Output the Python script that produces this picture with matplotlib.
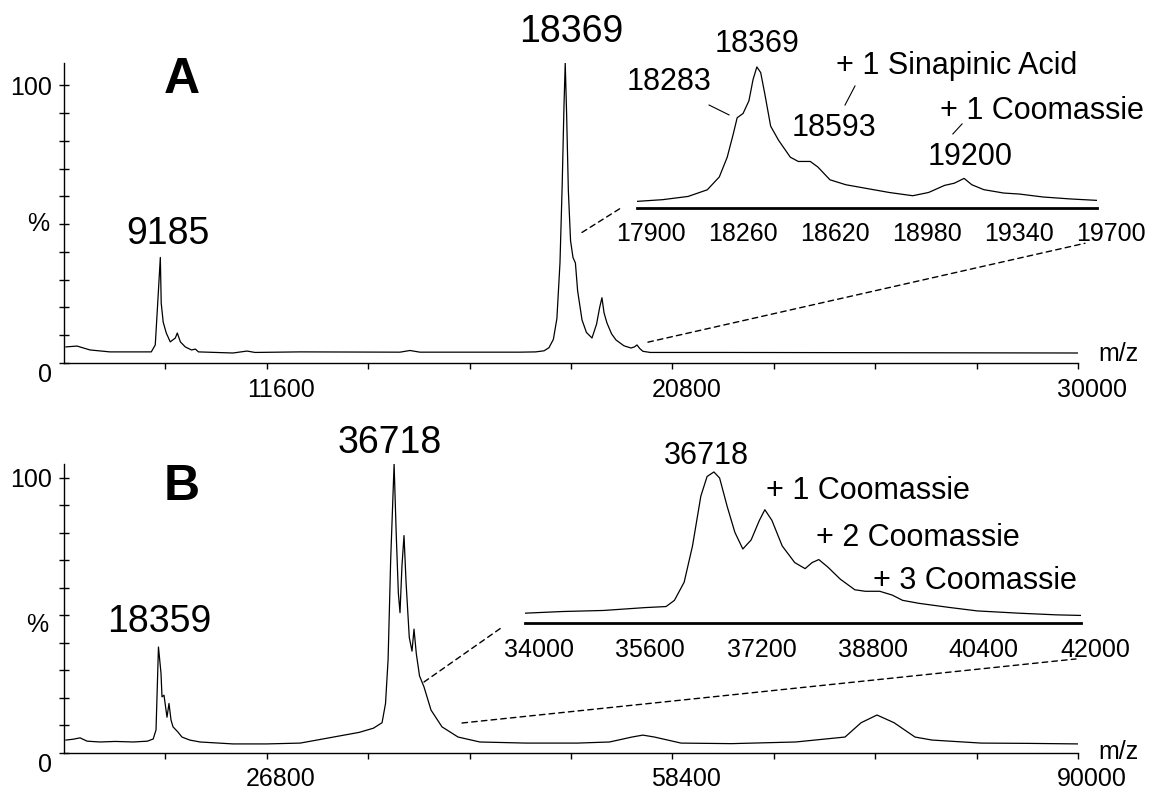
import numpy as np
import matplotlib
matplotlib.use('Agg')
import matplotlib.pyplot as plt
from matplotlib.patches import ConnectionPatch
from matplotlib.transforms import ScaledTranslation

plt.rcParams['font.family'] = ['Liberation Sans', 'DejaVu Sans']

# ---- panel A, full spectrum (m/z, relative intensity %)
mz_a = [7045, 7295, 7590, 8040, 8500, 8980, 9070, 9120, 9185, 9205, 9250, 9320, 9410,
        9525, 9570, 9640, 9750, 9890, 9980, 10050, 10833, 11151, 11332, 12353, 14620,
        14847, 15074, 17342, 17700, 17890, 18000, 18100, 18180, 18250, 18300, 18340,
        18369, 18400, 18440, 18490, 18545, 18600, 18650, 18750, 18850, 18976, 19080,
        19150, 19202, 19250, 19316, 19420, 19520, 19700, 19860, 19940, 19996, 20060,
        20132, 20300, 22000, 26000, 30000]
int_a = [5.8, 6.1, 4.7, 4.0, 4.0, 4.0, 6.5, 20, 38, 21.6, 14.7, 10.8, 7.6,
         9.0, 10.8, 7.6, 5.8, 4.7, 5.0, 4.0, 3.6, 4.3, 3.8, 4.0, 3.9,
         4.5, 3.9, 3.9, 4.0, 4.4, 5.5, 8.5, 16, 36, 64, 92,
         108, 90, 62, 44, 38, 36, 26, 15.5, 11, 9, 14,
         20, 23.5, 18, 14.4, 10.5, 8.3, 6.2, 5.4, 5.8, 6.5, 5.2,
         4.2, 3.8, 3.8, 3.7, 3.6]

# ---- panel A, inset
mz_ia = [17900, 18000, 18100, 18175, 18222, 18253, 18276, 18292, 18315, 18338, 18354,
         18369, 18384, 18400, 18423, 18454, 18500, 18531, 18578, 18608, 18655, 18717,
         18794, 18887, 18979, 19041, 19103, 19142, 19180, 19210, 19257, 19335, 19396,
         19489, 19597, 19700]
int_ia = [4.7, 5.9, 8.2, 12.9, 22, 36, 52, 64, 67, 76, 91,
          100, 96, 81, 58, 48, 36, 33, 33, 29, 20, 16.5,
          14, 11, 8.7, 11, 16, 17.6, 21, 16.5, 13, 10.6, 9.9,
          7.8, 6.4, 5.4]

# ---- panel B, full spectrum
mz_b = [11150, 11700, 12250, 12800, 13800, 15000, 16400, 17500, 17950, 18170, 18359,
        18557, 18635, 18790, 19025, 19180, 19337, 19493, 19880, 20190, 20800, 21600,
        24170, 26800, 29400, 32000, 34000, 35100, 35780, 36050, 36250, 36450, 36718,
        36880, 37050, 37178, 37330, 37490, 37650, 37900, 38113, 38269, 38450, 38700,
        39048, 39594, 40450, 41700, 43400, 47000, 51000, 53500, 55250, 56100, 57000,
        59070, 63000, 68000, 71850, 73100, 74340, 75670, 77300, 78630, 82450, 86000,
        90000]
int_b = [4.7, 5.0, 5.5, 4.3, 4.0, 4.2, 4.0, 4.3, 5.1, 8.4, 38.5,
         29, 20.4, 21, 13, 18, 12, 9.5, 7.6, 5.8, 4.7, 4.0,
         3.3, 3.3, 3.6, 5.8, 7.5, 9.0, 11, 18, 34, 70, 105,
         80, 58, 51, 68, 79, 62, 42, 37, 45, 36, 28,
         24, 15.6, 9.5, 5.8, 4.0, 3.6, 3.6, 4.0, 5.8, 6.5, 5.8,
         3.6, 3.4, 4.0, 5.8, 11, 13.8, 11, 5.8, 4.7, 3.6, 3.5,
         3.3]

# ---- panel B, inset
mz_ib = [34000, 34540, 35130, 35730, 36030, 36150, 36290, 36410, 36530, 36620, 36718,
         36800, 36910, 37020, 37134, 37254, 37373, 37451, 37552, 37701, 37881, 38030,
         38131, 38227, 38358, 38537, 38746, 38895, 39104, 39283, 39433, 39672, 40089,
         40507, 41104, 41642, 42000]
int_ib = [6.5, 7.6, 8.3, 10.2, 10.9, 15, 27, 51, 84, 97, 100,
          96, 77, 60, 49, 55, 68, 75, 68, 51, 40, 36,
          40, 42, 37, 29, 22, 21, 21, 18.5, 15, 13, 10.4,
          8, 6.5, 5.4, 5]

W, H = 1154, 792
fig = plt.figure(figsize=(W / 100, H / 100), dpi=100)


def px_rect(x0, x1, ytop, ybot):
    return [x0 / W, 1 - ybot / H, (x1 - x0) / W, (ybot - ytop) / H]


label_shift = ScaledTranslation(0.14, 0, fig.dpi_scale_trans)


def main_axes(rect, xlim, ymax, major, minor, pad):
    ax = fig.add_axes(rect)
    ax.set_xlim(*xlim)
    ax.set_ylim(0, ymax)
    ax.spines[['top', 'right']].set_visible(False)
    ax.spines[['left', 'bottom']].set_linewidth(1.0)
    ax.set_xticks(major)
    ax.set_xticks(minor, minor=True)
    ax.set_yticks([0, 100], ['0', '100'])
    ax.set_yticks(np.arange(10, 100, 10), minor=True)
    ax.tick_params(axis='x', which='both', direction='out', length=4, width=1,
                   labelsize=18, pad=pad)
    ax.tick_params(axis='y', which='both', direction='inout', length=7, width=1,
                   labelsize=18, pad=5)
    ax.get_yticklabels()[0].set_va('top')
    for lab in ax.get_xticklabels():
        lab.set_transform(lab.get_transform() + label_shift)
    return ax


def inset_axes(rect, xlim, ymax, ticks, pad):
    ax = fig.add_axes(rect)
    ax.set_facecolor('none')
    ax.set_xlim(*xlim)
    ax.set_ylim(0, ymax)
    ax.spines[['top', 'right', 'left']].set_visible(False)
    ax.spines['bottom'].set_linewidth(2)
    ax.set_yticks([])
    ax.set_xticks(ticks)
    ax.tick_params(axis='x', length=0, labelsize=18, pad=pad)
    for lab in ax.get_xticklabels():
        lab.set_transform(lab.get_transform() + label_shift)
    return ax


dash = (0, (4, 3))

# ================= A =================
ax_a = main_axes(px_rect(64, 1078, 63, 363), (7000, 30000), 108,
                 [11600, 20800, 30000], np.arange(9300, 30000, 2300), 7)
ax_a.plot(mz_a, int_a, color='k', lw=0.9)
ax_a.text(9676, 101.8, 'A', fontsize=36, fontweight='bold', ha='center', va='center')
ax_a.text(9359, 46.4, '9185', fontsize=27, ha='center', va='center')
ax_a.text(18499, 119, '18369', fontsize=27, ha='center', va='center')
ax_a.text(-0.025, 0.463, '%', fontsize=18, ha='center', va='center', transform=ax_a.transAxes)
ax_a.text(1.02, 0.03, 'm/z', fontsize=18, ha='left', va='center', transform=ax_a.transAxes)

ia = inset_axes(px_rect(637, 1097, 62, 208), (17900, 19700), 103.5,
                np.arange(17900, 19701, 360), 10)
ia.plot(mz_ia, int_ia, color='k', lw=0.9)
ia.text(18369, 116.3, '18369', fontsize=22, ha='center', va='center')
ia.text(18025, 89.4, '18283', fontsize=22, ha='center', va='center')
ia.text(19152, 100.7, '+ 1 Sinapinic Acid', fontsize=22, ha='center', va='center')
ia.text(18671, 56.7, '18593', fontsize=22, ha='center', va='center')
ia.text(19485, 68.8, '+ 1 Coomassie', fontsize=22, ha='center', va='center')
ia.text(19203, 36.2, '19200', fontsize=22, ha='center', va='center')
ia.plot([18182, 18260], [73, 66], color='k', lw=0.8, clip_on=False)
ia.plot([18753, 18714], [86.5, 73], color='k', lw=0.8, clip_on=False)
ia.plot([19172, 19136], [59.6, 52.5], color='k', lw=0.8, clip_on=False)

for pa, pb in [((18749, 47), (17837, 0)), ((20245, 7.5), (19653, -25))]:
    con = ConnectionPatch(xyA=pa, coordsA=ax_a.transData, xyB=pb, coordsB=ia.transData,
                          linestyle=dash, lw=1, color='k')
    fig.add_artist(con)

# ================= B =================
ax_b = main_axes(px_rect(64, 1078, 464, 753), (11000, 90000), 105,
                 [26800, 58400, 90000], np.arange(18900, 90000, 7900), 6)
ax_b.plot(mz_b, int_b, color='k', lw=0.9)
ax_b.text(20194, 96.7, 'B', fontsize=36, fontweight='bold', ha='center', va='center')
ax_b.text(18402, 47.6, '18359', fontsize=27, ha='center', va='center')
ax_b.text(36399, 112.7, '36718', fontsize=27, ha='center', va='center')
ax_b.text(-0.026, 0.443, '%', fontsize=18, ha='center', va='center', transform=ax_b.transAxes)
ax_b.text(1.02, 0.005, 'm/z', fontsize=18, ha='left', va='center', transform=ax_b.transAxes)

ib = inset_axes(px_rect(525, 1081, 465, 623), (34000, 42000), 104.6,
                np.arange(34000, 42001, 1600), 11)
ib.plot(mz_ib, int_ib, color='k', lw=0.9)
ib.text(36604, 110.6, '36718', fontsize=22, ha='center', va='center')
ib.text(38935, 87.4, '+ 1 Coomassie', fontsize=22, ha='center', va='center')
ib.text(39655, 56.3, '+ 2 Coomassie', fontsize=22, ha='center', va='center')
ib.text(40475, 27.8, '+ 3 Coomassie', fontsize=22, ha='center', va='center')

for pa, pb in [((39048, 25.8), (33655, -3.3)), ((42009, 10.9), (41928, -23.8))]:
    con = ConnectionPatch(xyA=pa, coordsA=ax_b.transData, xyB=pb, coordsB=ib.transData,
                          linestyle=dash, lw=1, color='k')
    fig.add_artist(con)

fig.savefig('out.png', dpi=100)
